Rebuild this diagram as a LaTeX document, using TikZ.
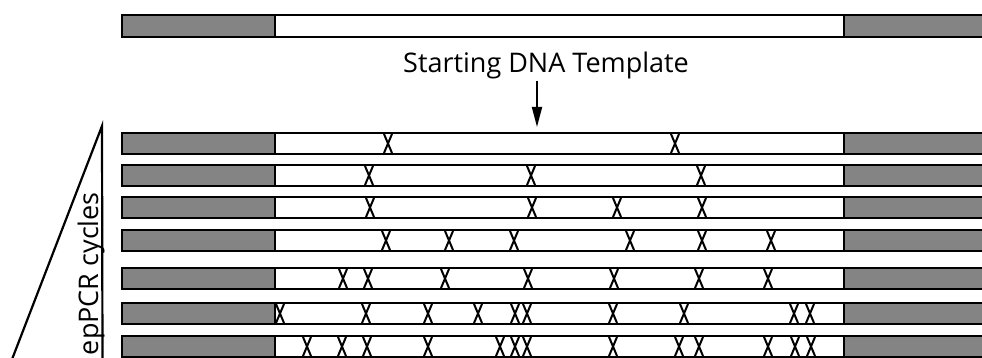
\documentclass[tikz,border=0pt]{standalone}
\usepackage{fontspec}
\setmainfont{Open Sans}
\usetikzlibrary{arrows.meta}
\definecolor{primer}{RGB}{132,132,132}
\begin{document}
\begin{tikzpicture}[x=1pt,y=-1pt,
  primerbox/.style={draw=black,line width=2.4pt,fill=primer,inner sep=0pt,outer sep=0pt,anchor=north west},
  templbox/.style={draw=black,line width=2.4pt,fill=white,inner sep=0pt,outer sep=0pt,anchor=north west},
  mut/.style={line width=2pt},
  lbl/.style={font=\fontsize{27}{32}\selectfont,inner sep=0pt}]
\useasboundingbox (0,0) rectangle (982,358);
\clip (0,0) rectangle (982,358);
\newcommand\dnabar[3]{%
  \node[templbox,minimum width=569pt,minimum height=#3pt] (#1M) at (275,#2) {};
  \node[primerbox,minimum width=153pt,minimum height=#3pt] (#1L) at (122,#2) {};
  \node[primerbox,minimum width=160pt,minimum height=#3pt] (#1R) at (844,#2) {};
}
% starting template
\dnabar{t}{15}{22}
\node[lbl,anchor=base] (start) at (546,73) {Starting DNA Template};
\coordinate (tip) at (537,127);
\draw[line width=1.8pt,-{Triangle[length=20pt,width=10pt]}] (start.south -| tip) ++(0,1) -- (tip);
% epPCR rows
\foreach \n/\t/\xs in {
  a/133/{388,675},
  b/165/{369,531,701},
  c/197/{370,532,617,702},
  d/230/{386,449,514,630,702,771},
  e/268/{343,368,445,528,614,699,768},
  f/303/{280,366,428,478,515,527,613,684,794,810},
  g/336/{307,342,367,428,500,515,527,613,679,699,768,795,811}}{
  \dnabar{\n}{\t}{21}
  \foreach \x in \xs {
    \draw[mut] ({\x-4},{\t+1}) -- ({\x+4},{\t+20});
    \draw[mut] ({\x+4},{\t+1}) -- ({\x-4},{\t+20});
  }
}
% cycles wedge
\coordinate (apex) at (102,126);
\coordinate (wl) at (11,362);
\coordinate (wr) at (102.5,362);
\draw[line width=2.2pt,line join=miter] (wl) -- (apex) -- (wr);
\node[lbl,rotate=90,anchor=base east] (cyc) at (98,192) {epPCR cycles};
\end{tikzpicture}
\end{document}
